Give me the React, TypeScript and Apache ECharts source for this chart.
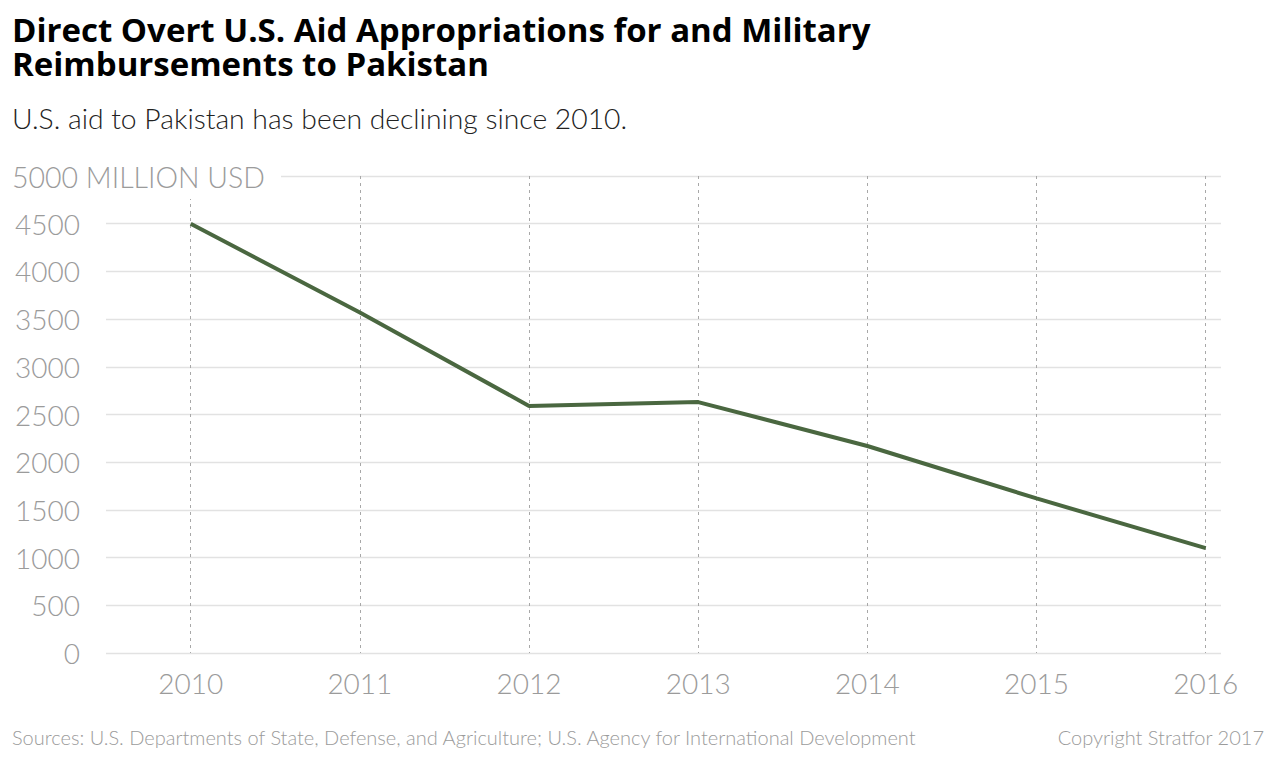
import React, { useEffect, useRef } from "react";
import * as echarts from "echarts";

const years = ["2010", "2011", "2012", "2013", "2014", "2015", "2016"];
const aidMillionUsd = [4500, 3570, 2590, 2630, 2170, 1620, 1100];
const yTicks = { min: 0, max: 5000, interval: 500 };

const titleLines = [
  "Direct Overt U.S. Aid Appropriations for and Military",
  "Reimbursements to Pakistan",
];
const subtitle = "U.S. aid to Pakistan has been declining since 2010.";
const unitLabel = "5000 MILLION USD";
const sourceText =
  "Sources: U.S. Departments of State, Defense, and Agriculture; U.S. Agency for International Development";
const copyrightText = "Copyright Stratfor 2017";

const LABEL_COLOR = "#9b9b9b";
const LIGHT_FONT = "Lato, 'Open Sans', sans-serif";
const TITLE_FONT = "'Open Sans', Roboto, sans-serif";

export default function App() {
  const ref = useRef<HTMLDivElement>(null);

  useEffect(() => {
    document.body.style.margin = "0";
    if (!ref.current) return;
    const chart = echarts.init(ref.current, undefined, { renderer: "svg" });
    chart.setOption({
      animation: false,
      backgroundColor: "#ffffff",
      grid: [
        { left: 106, right: 59, top: 176, bottom: 107 },
        { left: 190.7, right: 74.3, top: 176, bottom: 107 },
      ],
      xAxis: [
        { gridIndex: 0, type: "value", min: 0, max: 1, show: false },
        {
          gridIndex: 1,
          type: "category",
          data: years,
          boundaryGap: false,
          axisLine: { show: false },
          axisTick: { show: false },
          axisLabel: {
            color: LABEL_COLOR,
            fontSize: 28,
            fontWeight: 300,
            fontFamily: LIGHT_FONT,
            margin: 16,
          },
          splitLine: {
            show: true,
            lineStyle: { color: "#a8a8a8", width: 1, type: [3, 4] },
          },
        },
      ],
      yAxis: [
        {
          gridIndex: 0,
          type: "value",
          min: yTicks.min,
          max: yTicks.max,
          interval: yTicks.interval,
          axisLine: { show: false },
          axisTick: { show: false },
          axisLabel: {
            color: LABEL_COLOR,
            fontSize: 28,
            fontWeight: 300,
            fontFamily: LIGHT_FONT,
            margin: 26,
            formatter: (v: number) => (v === yTicks.max ? "" : String(v)),
          },
          splitLine: { show: true, lineStyle: { color: "#e2e2e2", width: 1.3 } },
        },
        {
          gridIndex: 1,
          type: "value",
          min: yTicks.min,
          max: yTicks.max,
          interval: yTicks.interval,
          show: false,
          splitLine: { show: false },
        },
      ],
      series: [
        {
          type: "line",
          xAxisIndex: 1,
          yAxisIndex: 1,
          data: aidMillionUsd,
          symbol: "none",
          lineStyle: { color: "#4a6740", width: 4 },
          z: 3,
        },
      ],
      graphic: [
        {
          type: "rect",
          z: 100,
          shape: { x: 0, y: 158, width: 281, height: 41 },
          style: { fill: "#ffffff" },
        },
        {
          type: "text",
          z: 101,
          x: 12,
          y: 177,
          style: {
            text: unitLabel,
            fill: LABEL_COLOR,
            font: `300 28.5px ${LIGHT_FONT}`,
            verticalAlign: "middle",
          },
        },
        {
          type: "text",
          x: 12,
          y: 12,
          style: {
            text: titleLines.join("\n"),
            fill: "#000000",
            font: `700 33px ${TITLE_FONT}`,
            lineHeight: 34,
            verticalAlign: "top",
          },
        },
        {
          type: "text",
          x: 12,
          y: 104,
          style: {
            text: subtitle,
            fill: "#222222",
            font: `300 28.3px ${LIGHT_FONT}`,
            verticalAlign: "top",
          },
        },
        {
          type: "text",
          x: 12,
          y: 737,
          style: {
            text: sourceText,
            fill: LABEL_COLOR,
            font: `300 20px ${LIGHT_FONT}`,
            verticalAlign: "middle",
          },
        },
        {
          type: "text",
          x: 1264,
          y: 737,
          style: {
            text: copyrightText,
            fill: LABEL_COLOR,
            font: `300 20px ${LIGHT_FONT}`,
            align: "right",
            verticalAlign: "middle",
          },
        },
      ],
    });
    return () => chart.dispose();
  }, []);

  return <div ref={ref} style={{ width: 1280, height: 760 }} />;
}
